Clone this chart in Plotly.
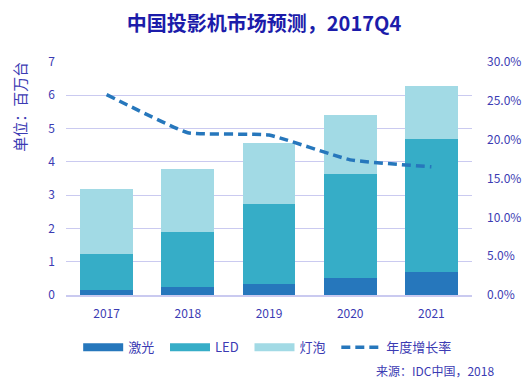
import plotly.graph_objects as go

years = ["2017", "2018", "2019", "2020", "2021"]
laser = [0.15, 0.23, 0.33, 0.50, 0.69]
led = [1.08, 1.66, 2.40, 3.13, 3.99]
bulb = [1.94, 1.91, 1.84, 1.77, 1.60]
growth = [25.8, 20.9, 20.6, 17.4, 16.5]
legend_names = ["激光", "LED", "灯泡", "年度增长率"]

FONT = "Noto Sans CJK SC"
TXT = "#3b3bb3"
GRID = "#cacaf0"
C_LASER = "#2677bc"
C_LED = "#36adc7"
C_BULB = "#a2dae5"
PAD = "\u00a0\u00a0"

fig = go.Figure()
fig.add_bar(x=years, y=laser, name="激光", marker_color=C_LASER, marker_line_width=0, showlegend=False)
fig.add_bar(x=years, y=led, name="LED", marker_color=C_LED, marker_line_width=0, showlegend=False)
fig.add_bar(x=years, y=bulb, name="灯泡", marker_color=C_BULB, marker_line_width=0, showlegend=False)
fig.add_scatter(x=years, y=growth, name="年度增长率", yaxis="y2", mode="lines", showlegend=False,
                line=dict(color=C_LASER, width=3.5, dash="9px,5px", shape="spline", smoothing=0.35))

# legend proxies (wide swatches like the reference)
for nm, col in zip(legend_names[:3], [C_LASER, C_LED, C_BULB]):
    fig.add_scatter(x=[None], y=[None], mode="lines", name=nm + PAD,
                    line=dict(color=col, width=8))
fig.add_scatter(x=[None], y=[None], mode="lines", name=legend_names[3],
                line=dict(color=C_LASER, width=3.5, dash="9px,5px"))

fig.update_layout(
    width=528, height=383,
    barmode="stack", bargap=0.35,
    paper_bgcolor="white", plot_bgcolor="white",
    margin=dict(l=66, r=56, t=62, b=88, autoexpand=False),
    font=dict(family=FONT, color=TXT, size=12),
    title=dict(text="<b>中国投影机市场预测，2017Q4</b>", x=0.5, xanchor="center",
               y=0.938, yanchor="middle", font=dict(size=20, color="#1c1caa", family=FONT)),
    xaxis=dict(showgrid=False, showline=True, linecolor=GRID, linewidth=1.5,
               ticks="", ticklabelstandoff=7, tickfont=dict(size=12, color=TXT)),
    yaxis=dict(range=[0, 7], dtick=1, showgrid=True, gridcolor=GRID, gridwidth=1.2,
               zeroline=False, ticks="", ticklabelstandoff=10,
               tickfont=dict(size=12, color=TXT)),
    yaxis2=dict(range=[0, 30], dtick=5, overlaying="y", side="right", showgrid=False,
                zeroline=False, ticksuffix="%", tickformat=".1f", ticklabelstandoff=14,
                tickfont=dict(size=12, color=TXT)),
    legend=dict(orientation="h", x=0.03, xanchor="left", y=-0.225, yanchor="middle",
                font=dict(size=13, color=TXT), itemwidth=40, traceorder="normal"),
    showlegend=True,
)

fig.add_annotation(text="单位：百万台", textangle=-90, xref="paper", yref="paper",
                   x=-0.113, y=1.01, xanchor="center", yanchor="top", showarrow=False,
                   font=dict(size=15, color=TXT, family=FONT))
fig.add_annotation(text="来源：IDC中国，2018", xref="paper", yref="paper",
                   x=1.06, y=-0.322, xanchor="right", yanchor="middle", showarrow=False,
                   font=dict(size=12, color=TXT, family=FONT))

fig.write_html("out.html", config={"displayModeBar": False},
               post_script="document.body.style.margin='0';document.body.style.overflow='hidden';")
